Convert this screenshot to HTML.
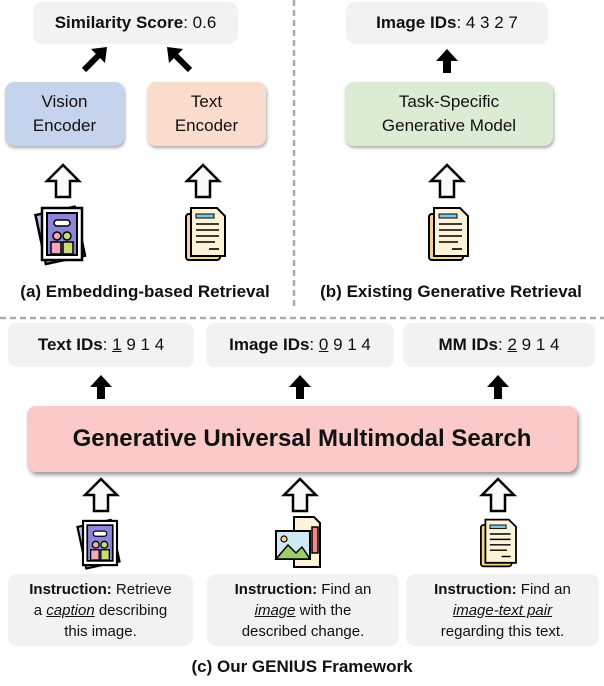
<!DOCTYPE html>
<html><head><meta charset="utf-8"><style>
body{margin:0;width:604px;height:686px;background:#fff;position:relative;overflow:hidden;font-family:"Liberation Sans",sans-serif;color:#111}
.b{position:absolute;display:flex;align-items:center;justify-content:center;text-align:center;box-sizing:border-box;border-radius:9px}
.g{background:#f2f2f2}
.cap{position:absolute;font-weight:bold;font-size:17px;text-align:center;white-space:nowrap}
svg{position:absolute;left:0;top:0}
u{text-decoration:underline}
</style></head><body>
<svg width="604" height="686">
<defs>
<g id="ho"><path d="M0,-16 L16,0 L7,0 L7,16 L-7,16 L-7,0 L-16,0 Z" fill="#fafafa" stroke="#000" stroke-width="2.5" stroke-linejoin="miter"/></g>
<g id="ba"><path d="M0,-12 L11,0 L4,0 L4,12 L-4,12 L-4,0 L-11,0 Z" fill="#000"/></g>
<g id="pic"><rect x="-22" y="-24" width="40" height="50" transform="rotate(-12)" fill="#b6c4ec" stroke="#000" stroke-width="2.5"/><rect x="-20" y="-26" width="40" height="52" fill="#fff" stroke="#000" stroke-width="2.5"/><rect x="-15" y="-21" width="30" height="42" fill="#8a87d8" stroke="#000" stroke-width="2"/><rect x="-8" y="-14" width="16" height="6" rx="3" fill="#fff" stroke="#000" stroke-width="1.5"/><circle cx="-5" cy="2" r="4" fill="#f3a7b7" stroke="#000" stroke-width="1.5"/><circle cx="5" cy="2" r="4" fill="#c7dc73" stroke="#000" stroke-width="1.5"/><rect x="-11" y="8" width="10" height="12" fill="#f3a7b7" stroke="#000" stroke-width="1.5"/><rect x="1" y="8" width="10" height="12" fill="#c7dc73" stroke="#000" stroke-width="1.5"/></g>
<g id="doc"><rect x="-19" y="-20" width="34" height="46" rx="3" fill="#f7d48e" stroke="#000" stroke-width="2"/><path d="M-14,-26 L12,-26 L20,-18 L20,22 L-14,22 Z" fill="#fdf3d6" stroke="#000" stroke-width="2"/><rect x="-9" y="-20" width="18" height="4" fill="#7cc6e8" stroke="#000" stroke-width="1"/><g stroke="#000" stroke-width="1.6"><line x1="-9" y1="-10" x2="14" y2="-10"/><line x1="-9" y1="-4" x2="14" y2="-4"/><line x1="-9" y1="2" x2="14" y2="2"/><line x1="-9" y1="8" x2="10" y2="8"/><line x1="4" y1="15" x2="14" y2="15"/></g></g>
</defs>
<line x1="294" y1="0" x2="294" y2="308" stroke="#aaa" stroke-width="2.5" stroke-dasharray="6,4"/>
<line x1="0" y1="318" x2="604" y2="318" stroke="#aaa" stroke-width="2.5" stroke-dasharray="6,4"/>
<path d="M84,70 L100,54" stroke="#000" stroke-width="6"/><path d="M107,47 L91,49 L105,63 Z" fill="#000"/>
<path d="M190,70 L174,54" stroke="#000" stroke-width="6"/><path d="M167,47 L183,49 L169,63 Z" fill="#000"/>
<use href="#ba" x="447" y="61"/>
<use href="#ba" x="101" y="387"/><use href="#ba" x="300" y="387"/><use href="#ba" x="498" y="387"/>
<use href="#ho" x="63" y="181"/><use href="#ho" x="203" y="181"/><use href="#ho" x="447" y="181"/>
<use href="#ho" x="101" y="495"/><use href="#ho" x="300" y="495"/><use href="#ho" x="498" y="495"/>
<use href="#pic" x="62" y="234"/><use href="#doc" x="205" y="234"/><use href="#doc" x="448" y="234"/>
<use href="#pic" transform="translate(100,543) scale(0.85)"/><use href="#doc" transform="translate(498,543) scale(0.9)"/>
<g transform="translate(300,543)"><path d="M-6,-26 L14,-26 L20,-20 L20,24 L-6,24 Z" fill="#fdf3d6" stroke="#000" stroke-width="2"/><rect x="-24" y="-12" width="34" height="28" fill="#cfe8f5" stroke="#000" stroke-width="2"/><path d="M-24,16 L-12,2 L-4,10 L2,4 L10,16 Z" fill="#9ccf6a" stroke="#000" stroke-width="1.5"/><circle cx="-16" cy="-4" r="3" fill="#f7d48e" stroke="#000" stroke-width="1.2"/><rect x="12" y="-16" width="6" height="26" fill="#f08a8a" stroke="#000" stroke-width="1.5"/></g>
</svg>
<div class="b g" style="left:33px;top:2px;width:205px;height:42px;font-size:17px"><b>Similarity Score</b>: 0.6</div>
<div class="b" style="left:5px;top:82px;width:119px;height:64px;background:#c5d3ec;font-size:17px;line-height:24px;box-shadow:1px 2px 3px #aaa">Vision<br>Encoder</div>
<div class="b" style="left:147px;top:82px;width:119px;height:64px;background:#f9dccb;font-size:17px;line-height:24px;box-shadow:1px 2px 3px #aaa">Text<br>Encoder</div>
<div class="cap" style="left:0;width:290px;top:282px">(a) Embedding-based Retrieval</div>
<div class="b g" style="left:346px;top:2px;width:202px;height:42px;font-size:17px"><b>Image IDs</b>: 4 3 2 7</div>
<div class="b" style="left:345px;top:82px;width:208px;height:64px;background:#dcebd3;font-size:17px;line-height:24px;box-shadow:1px 2px 3px #aaa">Task-Specific<br>Generative Model</div>
<div class="cap" style="left:298px;width:306px;top:282px">(b) Existing Generative Retrieval</div>
<div class="b g" style="left:8px;top:323px;width:186px;height:44px;font-size:17px"><b>Text IDs</b>:&nbsp;<u>1</u>&nbsp;9 1 4</div>
<div class="b g" style="left:206px;top:323px;width:188px;height:44px;font-size:17px"><b>Image IDs</b>:&nbsp;<u>0</u>&nbsp;9 1 4</div>
<div class="b g" style="left:403px;top:323px;width:192px;height:44px;font-size:17px"><b>MM IDs</b>:&nbsp;<u>2</u>&nbsp;9 1 4</div>
<div class="b" style="left:27px;top:406px;width:550px;height:66px;background:#fcc9c9;font-size:24px;font-weight:bold;box-shadow:2px 3px 4px #999">Generative Universal Multimodal Search</div>
<div class="b g" style="left:8px;top:574px;width:185px;height:72px;font-size:15px;line-height:21px"><div><b>Instruction:</b> Retrieve<br>a <u><i>caption</i></u> describing<br>this image.</div></div>
<div class="b g" style="left:207px;top:574px;width:192px;height:72px;font-size:15px;line-height:21px"><div><b>Instruction:</b> Find an<br><u><i>image</i></u> with the<br>described change.</div></div>
<div class="b g" style="left:406px;top:574px;width:193px;height:72px;font-size:15px;line-height:21px"><div><b>Instruction:</b> Find an<br><u><i>image-text pair</i></u><br>regarding this text.</div></div>
<div class="cap" style="left:0;width:604px;top:657px">(c) Our GENIUS Framework</div>
</body></html>
